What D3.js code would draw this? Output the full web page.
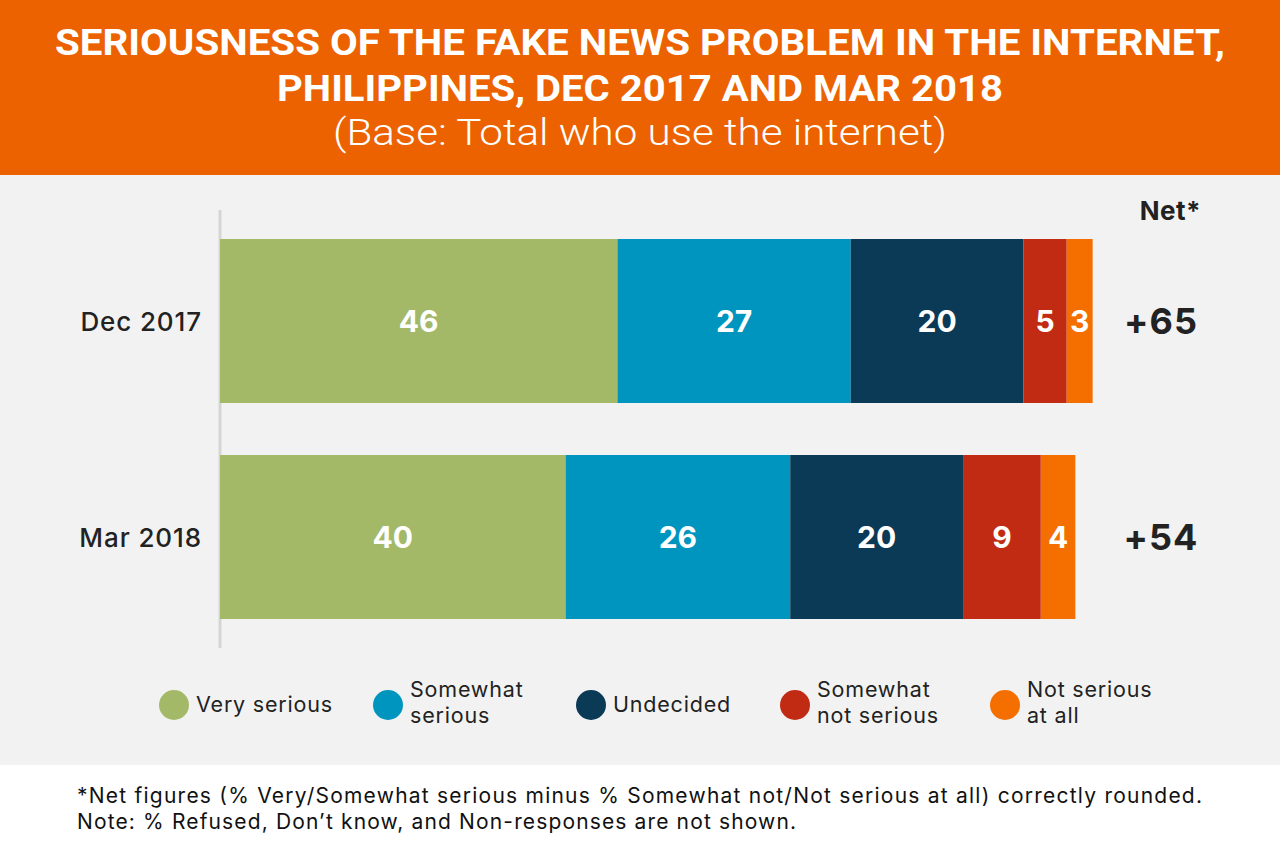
<!DOCTYPE html>
<html><head><meta charset="utf-8">
<script src="https://cdn.jsdelivr.net/npm/d3@7"></script>
<style>html,body{margin:0;padding:0;background:#fff;}svg{display:block;}</style>
</head><body>
<svg id="chart" width="1280" height="860"></svg>
<script>
const categories = ["Dec 2017", "Mar 2018"];
const seriesNames = ["Very serious", "Somewhat serious", "Undecided", "Somewhat not serious", "Not serious at all"];
const legendLines = [["Very serious"], ["Somewhat", "serious"], ["Undecided"], ["Somewhat", "not serious"], ["Not serious", "at all"]];
const verySerious = [46, 40];
const somewhatSerious = [27, 26];
const undecided = [20, 20];
const somewhatNot = [5, 9];
const notAtAll = [3, 4];
const netValues = ["+65", "+54"];
const colors = ["#A4B968", "#0095BE", "#0A3A56", "#C22B13", "#F46E00"];

const svg = d3.select("#chart");
const W = 1280, H = 860;
const bodyFont = "Inter, 'Noto Sans', sans-serif";

svg.append("rect").attr("width", W).attr("height", H).attr("fill", "#fff");
svg.append("rect").attr("width", W).attr("height", 175).attr("fill", "#EC6200");
svg.append("rect").attr("y", 175).attr("width", W).attr("height", 590).attr("fill", "#F2F2F2");

const title = svg.append("g").attr("font-family", "Roboto, sans-serif").attr("fill", "#fff").attr("text-anchor", "middle");
title.append("text").attr("x", 640).attr("y", 55).attr("font-size", 37).attr("font-weight", 700)
  .attr("textLength", 1170).attr("lengthAdjust", "spacingAndGlyphs")
  .text("SERIOUSNESS OF THE FAKE NEWS PROBLEM IN THE INTERNET,");
title.append("text").attr("x", 640).attr("y", 101).attr("font-size", 37).attr("font-weight", 700)
  .attr("textLength", 726).attr("lengthAdjust", "spacingAndGlyphs")
  .text("PHILIPPINES, DEC 2017 AND MAR 2018");
title.append("text").attr("x", 640).attr("y", 145).attr("font-size", 36).attr("font-weight", 300)
  .attr("textLength", 614).attr("lengthAdjust", "spacingAndGlyphs")
  .text("(Base: Total who use the internet)");

const seriesArrays = [verySerious, somewhatSerious, undecided, somewhatNot, notAtAll];
const rows = categories.map((c, i) => {
  const r = {cat: c};
  seriesNames.forEach((s, j) => r[s] = seriesArrays[j][i]);
  return r;
});
const stacked = d3.stack().keys(seriesNames)(rows);

const x = d3.scaleLinear().domain([0, 100]).range([220, 1084]);
const y = d3.scaleBand().domain(categories).range([239, 619]).paddingInner(52 / 216).paddingOuter(0);

svg.append("line").attr("x1", 220).attr("x2", 220).attr("y1", 210).attr("y2", 648)
  .attr("stroke", "#D5D5D5").attr("stroke-width", 3);

stacked.forEach((layer, j) => {
  const g = svg.append("g");
  g.selectAll("rect").data(layer).join("rect")
    .attr("x", d => x(d[0])).attr("width", d => x(d[1]) - x(d[0]))
    .attr("y", d => y(d.data.cat)).attr("height", y.bandwidth())
    .attr("fill", colors[j]);
  g.selectAll("text").data(layer).join("text")
    .attr("x", d => (x(d[0]) + x(d[1])) / 2)
    .attr("y", d => y(d.data.cat) + y.bandwidth() / 2 + 11)
    .attr("text-anchor", "middle").attr("font-family", bodyFont).attr("font-weight", 700)
    .attr("font-size", 30).attr("fill", "#fff")
    .text(d => d[1] - d[0]);
});

svg.append("g").selectAll("text").data(categories).join("text")
  .attr("x", 202).attr("y", d => y(d) + y.bandwidth() / 2 + 10)
  .attr("text-anchor", "end").attr("font-family", bodyFont).attr("font-weight", 500)
  .attr("font-size", 26).attr("letter-spacing", 0.9).attr("fill", "#222").text(d => d);

svg.append("text").attr("x", 1201).attr("y", 220).attr("text-anchor", "end")
  .attr("font-family", bodyFont).attr("font-weight", 700).attr("font-size", 26).attr("letter-spacing", 0.5).attr("fill", "#222").text("Net*");
svg.append("g").selectAll("text").data(categories).join("text")
  .attr("x", 1161).attr("y", d => y(d) + y.bandwidth() / 2 + 13)
  .attr("text-anchor", "middle").attr("font-family", bodyFont).attr("font-weight", 700)
  .attr("font-size", 36).attr("letter-spacing", 1).attr("fill", "#222").text((d, i) => netValues[i]);

const legendX = [174, 388, 591, 795, 1005];
const leg = svg.append("g").attr("font-family", bodyFont).attr("font-size", 21.5).attr("letter-spacing", 0.8).attr("fill", "#222");
seriesNames.forEach((s, j) => {
  leg.append("circle").attr("cx", legendX[j]).attr("cy", 705).attr("r", 15).attr("fill", colors[j]);
  const lines = legendLines[j];
  if (lines.length === 1) {
    leg.append("text").attr("x", legendX[j] + 22).attr("y", 712).text(lines[0]);
  } else {
    lines.forEach((l, k) => leg.append("text").attr("x", legendX[j] + 22).attr("y", 697 + k * 26).text(l));
  }
});

const foot = svg.append("g").attr("font-family", bodyFont).attr("font-size", 21).attr("fill", "#111");
foot.append("text").attr("x", 77).attr("y", 803).attr("textLength", 1125).attr("lengthAdjust", "spacing")
  .text("*Net figures (% Very/Somewhat serious minus % Somewhat not/Not serious at all) correctly rounded.");
foot.append("text").attr("x", 77).attr("y", 829).attr("textLength", 719).attr("lengthAdjust", "spacing")
  .text("Note: % Refused, Don\u2019t know, and Non-responses are not shown.");
</script>
</body></html>
